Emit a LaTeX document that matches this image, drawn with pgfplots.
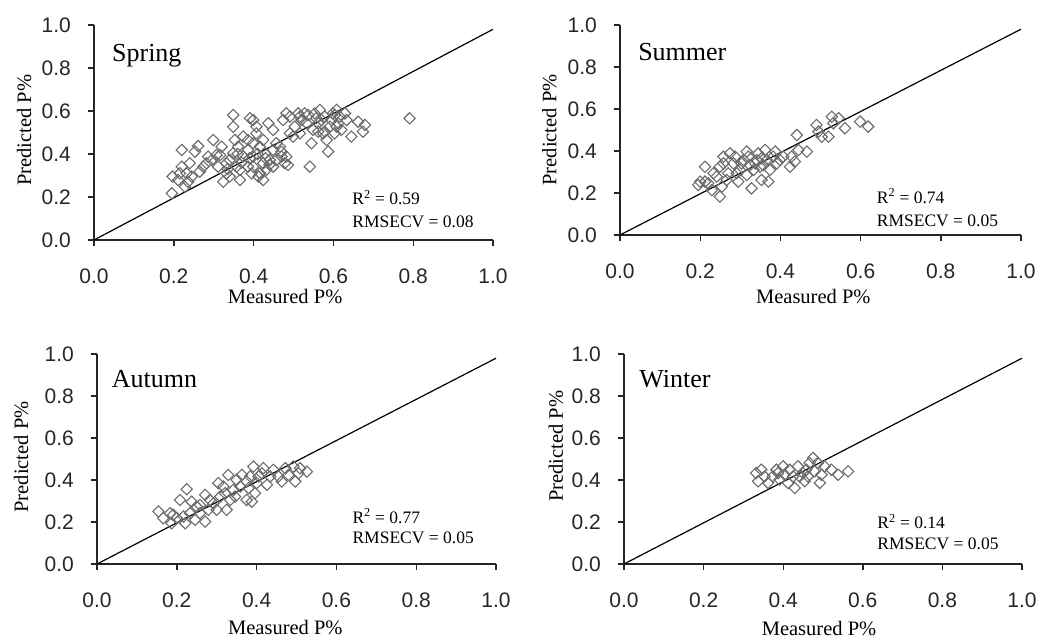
\documentclass[border=0pt]{standalone}
\usepackage{fontspec}
\setmainfont{Liberation Serif}
\newfontfamily\ticksf{Liberation Sans}
\usepackage{pgfplots}
\usepackage{pgfplotstable}
\pgfplotsset{compat=1.18}

\pgfplotstableread{
x y
0.195 0.217
0.197 0.295
0.22 0.419
0.22 0.341
0.211 0.279
0.232 0.31
0.24 0.357
0.236 0.271
0.253 0.411
0.261 0.437
0.265 0.318
0.282 0.357
0.295 0.372
0.299 0.465
0.307 0.395
0.32 0.434
0.324 0.271
0.332 0.31
0.34 0.372
0.349 0.581
0.349 0.527
0.353 0.465
0.357 0.341
0.366 0.279
0.361 0.434
0.374 0.388
0.391 0.566
0.386 0.465
0.386 0.341
0.399 0.388
0.407 0.527
0.412 0.295
0.416 0.434
0.424 0.465
0.424 0.357
0.437 0.543
0.432 0.326
0.449 0.512
0.449 0.419
0.449 0.341
0.466 0.434
0.47 0.388
0.474 0.558
0.482 0.589
0.478 0.357
0.491 0.496
0.503 0.527
0.512 0.589
0.516 0.496
0.528 0.589
0.533 0.543
0.541 0.341
0.545 0.45
0.549 0.512
0.553 0.589
0.562 0.543
0.566 0.605
0.574 0.496
0.578 0.574
0.583 0.465
0.587 0.411
0.591 0.527
0.599 0.589
0.603 0.496
0.612 0.543
0.616 0.574
0.629 0.589
0.633 0.558
0.645 0.481
0.662 0.55
0.674 0.504
0.679 0.535
0.791 0.566
0.34 0.295
0.374 0.481
0.399 0.45
0.428 0.403
0.441 0.372
0.457 0.45
0.457 0.372
0.482 0.388
0.486 0.349
0.349 0.403
0.332 0.357
0.366 0.326
0.386 0.419
0.399 0.341
0.416 0.31
0.424 0.279
0.399 0.558
0.407 0.496
0.215 0.31
0.228 0.248
0.245 0.295
0.274 0.341
0.286 0.388
0.311 0.341
0.316 0.395
0.52 0.558
0.57 0.558
0.595 0.558
0.608 0.527
0.62 0.512
0.608 0.605
0.516 0.574
0.537 0.581
0.557 0.566
0.491 0.574
0.499 0.481
0.578 0.504
0.562 0.504
0.603 0.581
0.37 0.36
0.39 0.38
0.41 0.40
0.43 0.38
0.36 0.40
0.47 0.41
0.335 0.33
0.395 0.31
0.44 0.35
}\spring

\pgfplotstableread{
x y
0.195 0.238
0.2 0.254
0.212 0.325
0.22 0.246
0.229 0.214
0.241 0.278
0.249 0.183
0.254 0.23
0.258 0.341
0.258 0.373
0.27 0.294
0.274 0.389
0.283 0.341
0.287 0.373
0.295 0.254
0.299 0.31
0.308 0.357
0.316 0.286
0.32 0.373
0.324 0.333
0.328 0.222
0.337 0.341
0.345 0.389
0.349 0.325
0.353 0.262
0.362 0.405
0.366 0.357
0.37 0.254
0.374 0.31
0.382 0.373
0.391 0.341
0.399 0.357
0.424 0.325
0.428 0.373
0.436 0.349
0.441 0.476
0.445 0.405
0.466 0.397
0.49 0.524
0.495 0.492
0.503 0.468
0.52 0.468
0.528 0.563
0.532 0.532
0.545 0.556
0.561 0.508
0.599 0.54
0.619 0.516
0.212 0.254
0.233 0.294
0.249 0.325
0.291 0.294
0.303 0.341
0.333 0.31
0.341 0.357
0.357 0.333
0.387 0.397
0.407 0.373
0.353 0.365
0.316 0.397
0.266 0.262
}\summer

\pgfplotstableread{
x y
0.154 0.25
0.166 0.218
0.187 0.194
0.191 0.234
0.2 0.218
0.208 0.305
0.217 0.226
0.221 0.194
0.225 0.356
0.233 0.242
0.237 0.297
0.246 0.21
0.25 0.273
0.258 0.242
0.271 0.202
0.271 0.329
0.279 0.258
0.292 0.289
0.3 0.258
0.304 0.385
0.309 0.321
0.321 0.337
0.325 0.258
0.329 0.424
0.334 0.305
0.342 0.353
0.35 0.401
0.359 0.369
0.363 0.424
0.375 0.305
0.375 0.393
0.384 0.417
0.388 0.297
0.392 0.464
0.396 0.337
0.4 0.385
0.413 0.432
0.417 0.456
0.426 0.377
0.434 0.417
0.442 0.448
0.455 0.417
0.463 0.393
0.472 0.456
0.48 0.424
0.492 0.464
0.497 0.393
0.505 0.432
0.509 0.456
0.526 0.44
0.183 0.242
0.283 0.305
0.317 0.369
0.38 0.361
0.405 0.417
0.346 0.321
0.258 0.281
}\autumn

\pgfplotstableread{
x y
0.332 0.433
0.337 0.394
0.345 0.449
0.353 0.417
0.362 0.386
0.374 0.417
0.383 0.449
0.391 0.402
0.4 0.465
0.404 0.425
0.412 0.386
0.416 0.449
0.425 0.417
0.429 0.362
0.437 0.465
0.441 0.417
0.454 0.394
0.458 0.449
0.466 0.481
0.475 0.505
0.479 0.441
0.487 0.481
0.492 0.386
0.496 0.425
0.504 0.465
0.521 0.449
0.538 0.425
0.563 0.441
0.387 0.433
0.45 0.433
0.462 0.417
}\winter

\pgfplotstableread{
x y
0 0
1 0.98
}\oneline

\definecolor{markgray}{gray}{0.42}
\definecolor{axisgray}{gray}{0.15}

\newcommand{\labfont}{\fontsize{20.5}{24}\selectfont}

\pgfplotsset{
  panel/.style={
    scale only axis,
    anchor=south west,
    xmin=0, xmax=1, ymin=0, ymax=1,
    axis lines=left,
    axis line style={-, line width=1.4pt, axisgray},
    xtick={0,0.2,0.4,0.6,0.8,1},
    ytick={0,0.2,0.4,0.6,0.8,1},
    tick align=outside,
    major tick length=6pt,
    every tick/.style={line width=1.4pt, axisgray},
    /pgf/number format/fixed,
    /pgf/number format/fixed zerofill,
    /pgf/number format/precision=1,
    /pgf/number format/assume math mode=true,
    ticklabel style={font=\ticksf\fontsize{21}{24}\selectfont, text=axisgray, inner sep=0pt},
    xticklabel style={anchor=north, yshift=-23pt},
    yticklabel style={anchor=east, xshift=-17pt},
    xlabel={Measured P\%},
    ylabel={Predicted P\%},
    clip=false,
  },
  scat/.style={only marks, mark=square, mark size=4pt,
    mark options={rotate=45, draw=markgray, line width=1.1pt, fill=none}},
  oneline/.style={no marks, black, line width=1.2pt},
}

\newcommand{\paneltitle}[1]{\fontsize{26}{30}\selectfont #1}
\newcommand{\stat}{\fontsize{17.5}{20}\selectfont}

\begin{document}
\begin{tikzpicture}
\useasboundingbox (0,0) rectangle (1038pt,640pt);

% Spring
\begin{axis}[panel, at={(94pt,400pt)}, width=399pt, height=215pt,
  every axis x label/.style={at={(axis description cs:0.479,0)}, anchor=north, yshift=-49.5pt, font=\labfont, inner sep=0pt},
  every axis y label/.style={at={(axis description cs:-0.175,0.51)}, anchor=center, rotate=90, font=\labfont, inner sep=0pt}]
\addplot[scat] table {\spring};
\addplot[oneline] table {\oneline};
\node[anchor=base west, inner sep=0pt] at (axis cs:0.045,0.83) {\paneltitle{Spring}};
\node[anchor=base west, inner sep=0pt] at (axis cs:0.647,0.163) {\stat R\textsuperscript{2} = 0.59};
\node[anchor=base west, inner sep=0pt] at (axis cs:0.647,0.06) {\stat RMSECV = 0.08};
\end{axis}

% Summer
\begin{axis}[panel, at={(620pt,405pt)}, width=401pt, height=210pt,
  every axis x label/.style={at={(axis description cs:0.482,0)}, anchor=north, yshift=-54.5pt, font=\labfont, inner sep=0pt},
  every axis y label/.style={at={(axis description cs:-0.176,0.5)}, anchor=center, rotate=90, font=\labfont, inner sep=0pt}]
\addplot[scat] table {\summer};
\addplot[oneline] table {\oneline};
\node[anchor=base west, inner sep=0pt] at (axis cs:0.045,0.83) {\paneltitle{Summer}};
\node[anchor=base west, inner sep=0pt] at (axis cs:0.64,0.152) {\stat R\textsuperscript{2} = 0.74};
\node[anchor=base west, inner sep=0pt] at (axis cs:0.64,0.04) {\stat RMSECV = 0.05};
\end{axis}

% Autumn
\begin{axis}[panel, at={(97pt,76pt)}, width=399pt, height=210pt,
  every axis x label/.style={at={(axis description cs:0.472,0)}, anchor=north, yshift=-56.5pt, font=\labfont, inner sep=0pt},
  every axis y label/.style={at={(axis description cs:-0.19,0.51)}, anchor=center, rotate=90, font=\labfont, inner sep=0pt}]
\addplot[scat] table {\autumn};
\addplot[oneline] table {\oneline};
\node[anchor=base west, inner sep=0pt] at (axis cs:0.037,0.84) {\paneltitle{Autumn}};
\node[anchor=base west, inner sep=0pt] at (axis cs:0.64,0.195) {\stat R\textsuperscript{2} = 0.77};
\node[anchor=base west, inner sep=0pt] at (axis cs:0.64,0.1) {\stat RMSECV = 0.05};
\end{axis}

% Winter
\begin{axis}[panel, at={(624pt,76pt)}, width=398pt, height=210pt,
  every axis x label/.style={at={(axis description cs:0.49,0)}, anchor=north, yshift=-57.5pt, font=\labfont, inner sep=0pt},
  every axis y label/.style={at={(axis description cs:-0.171,0.56)}, anchor=center, rotate=90, font=\labfont, inner sep=0pt}]
\addplot[scat] table {\winter};
\addplot[oneline] table {\oneline};
\node[anchor=base west, inner sep=0pt] at (axis cs:0.038,0.84) {\paneltitle{Winter}};
\node[anchor=base west, inner sep=0pt] at (axis cs:0.636,0.17) {\stat R\textsuperscript{2} = 0.14};
\node[anchor=base west, inner sep=0pt] at (axis cs:0.636,0.067) {\stat RMSECV = 0.05};
\end{axis}
\end{tikzpicture}
\end{document}
